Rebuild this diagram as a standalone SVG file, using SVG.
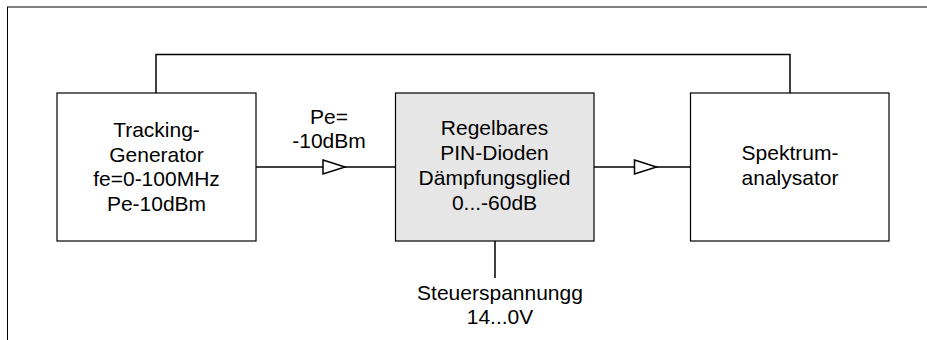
<svg xmlns="http://www.w3.org/2000/svg" xmlns:xlink="http://www.w3.org/1999/xlink" width="927" height="340" viewBox="0 0 927 340">
<style>
.box{stroke:#000;stroke-width:1.2;}
.wire{fill:none;stroke:#000;stroke-width:1.5;}
.tri{fill:#fff;stroke:#000;stroke-width:1.5;stroke-linejoin:miter;}
text{font-family:"Liberation Sans",Arial,sans-serif;font-size:21px;fill:#000;text-anchor:middle;}
</style>
<defs>
<polygon id="arrow" class="tri" points="0,-7 22,0 0,7"/>
</defs>
<rect x="0" y="0" width="927" height="340" fill="#fff"/>
<g id="frame">
<line x1="7" y1="7" x2="927" y2="7" stroke="#808080" stroke-width="2"/>
<line x1="7.5" y1="7" x2="7.5" y2="340" stroke="#000" stroke-width="1"/>
</g>
<g id="connectors">
<polyline class="wire" points="156,93 156,54.5 790,54.5 790,93"/>
<line class="wire" x1="256" y1="167" x2="395.5" y2="167"/>
<line class="wire" x1="594" y1="167" x2="690.5" y2="167"/>
<line class="wire" x1="495" y1="241" x2="495" y2="278"/>
<use xlink:href="#arrow" x="323" y="167"/>
<use xlink:href="#arrow" x="634.5" y="167"/>
</g>
<g id="tracking-generator">
<rect class="box" x="57" y="93" width="199" height="148" fill="#fff"/>
<text x="156.5" y="137">Tracking-</text>
<text x="156.5" y="161.7">Generator</text>
<text x="156.5" y="186.3">fe=0-100MHz</text>
<text x="156.5" y="211">Pe-10dBm</text>
</g>
<g id="label-pe">
<text x="329" y="123.5">Pe=</text>
<text x="329" y="148">-10dBm</text>
</g>
<g id="pin-attenuator">
<rect class="box" x="395.5" y="93" width="198.5" height="148" fill="#e6e6e6"/>
<text x="494.5" y="135">Regelbares</text>
<text x="494.5" y="160">PIN-Dioden</text>
<text x="494.5" y="185">Dämpfungsglied</text>
<text x="494.5" y="210">0...-60dB</text>
</g>
<g id="spectrum-analyzer">
<rect class="box" x="690.5" y="93" width="198.5" height="148" fill="#fff"/>
<text x="790" y="160">Spektrum-</text>
<text x="790" y="185">analysator</text>
</g>
<g id="control-voltage">
<text x="500" y="299.5">Steuerspannungg</text>
<text x="500" y="323.5">14...0V</text>
</g>
</svg>
